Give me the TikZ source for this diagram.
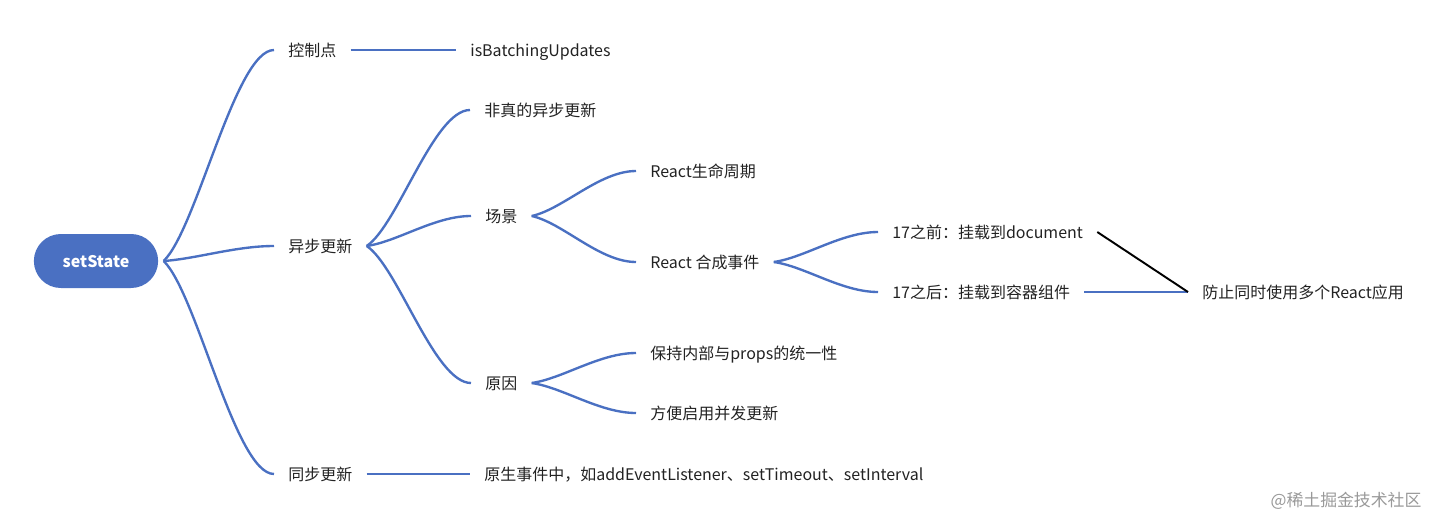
\documentclass[tikz,border=0pt]{standalone}
\usepackage{fontspec}
\setmainfont{Noto Sans CJK SC}
\usetikzlibrary{calc,shapes.misc}
\definecolor{mmblue}{HTML}{4A70C2}
\definecolor{mmtext}{HTML}{222222}
\tikzset{
  topic/.style={anchor=west, inner xsep=0.28cm, inner ysep=0pt,
    text height=0.86em, text depth=0.08em, text=mmtext},
  link/.style={draw=mmblue, line width=1.35pt},
  branch/.style={link, to path={let \p1=(\tikztostart), \p2=(\tikztotarget) in
    .. controls ({\x1+0.3*(\x2-\x1)},{\y1+0.15*(\y2-\y1)})
    and ({\x2-0.35*(\x2-\x1)},\y2) .. (\p2) \tikztonodes}},
}
\begin{document}
\begin{tikzpicture}[x=0.02cm, y=-0.02cm, font=\fontsize{9.1pt}{11pt}\selectfont]
    \useasboundingbox (0,0) rectangle (1440,521);
    \node[rounded rectangle, fill=mmblue, text=white, font=\fontsize{9.1pt}{11pt}\selectfont\bfseries,
        minimum width=2.72cm, minimum height=1.08cm, outer xsep=0.11cm,
        text height=0.86em, text depth=0.08em] (root) at (96,261) {setState};
    % first level
    \node[topic] (ctrl) at (274,50) {控制点};
    \node[topic] (async) at (274,246) {异步更新};
    \node[topic] (sync) at (274,474) {同步更新};
    \node[topic] (batching) at (456,50) {isBatchingUpdates};
    \node[topic] (native) at (470,474) {原生事件中，如addEventListener、setTimeout、setInterval};
    % async branch
    \node[topic] (fake) at (470,110) {非真的异步更新};
    \node[topic] (scene) at (471,216) {场景};
    \node[topic] (reason) at (471,383) {原因};
    \node[topic] (lifecycle) at (636,171) {React生命周期};
    \node[topic] (synthetic) at (636,262) {React 合成事件};
    \node[topic] (before17) at (878,232) {17之前：挂载到document};
    \node[topic] (after17) at (878,292) {17之后：挂载到容器组件};
    \node[topic] (prevent) at (1188,292) {防止同时使用多个React应用};
    \node[topic] (consistent) at (636,353) {保持内部与props的统一性};
    \node[topic] (concurrent) at (636,413) {方便启用并发更新};
    \node[text=black!40, font=\fontsize{9.6pt}{11pt}\selectfont] (mark) at (1346,501) {@稀土掘金技术社区};

    \draw[branch] (root.east) to (ctrl.west);
    \draw[branch] (root.east) to (async.west);
    \draw[branch] (root.east) to (sync.west);
    \draw[link] (ctrl.east) -- (batching.west);
    \draw[link] (sync.east) -- (native.west);
    \draw[branch] (async.east) to (fake.west);
    \draw[branch] (async.east) to (scene.west);
    \draw[branch] (async.east) to (reason.west);
    \draw[branch] (scene.east) to (lifecycle.west);
    \draw[branch] (scene.east) to (synthetic.west);
    \draw[branch] (synthetic.east) to (before17.west);
    \draw[branch] (synthetic.east) to (after17.west);
    \draw[link] (after17.east) -- (prevent.west);
    \draw[line width=1.1pt] (before17.east) -- (prevent.west);
    \draw[branch] (reason.east) to (consistent.west);
    \draw[branch] (reason.east) to (concurrent.west);
\end{tikzpicture}
\end{document}
